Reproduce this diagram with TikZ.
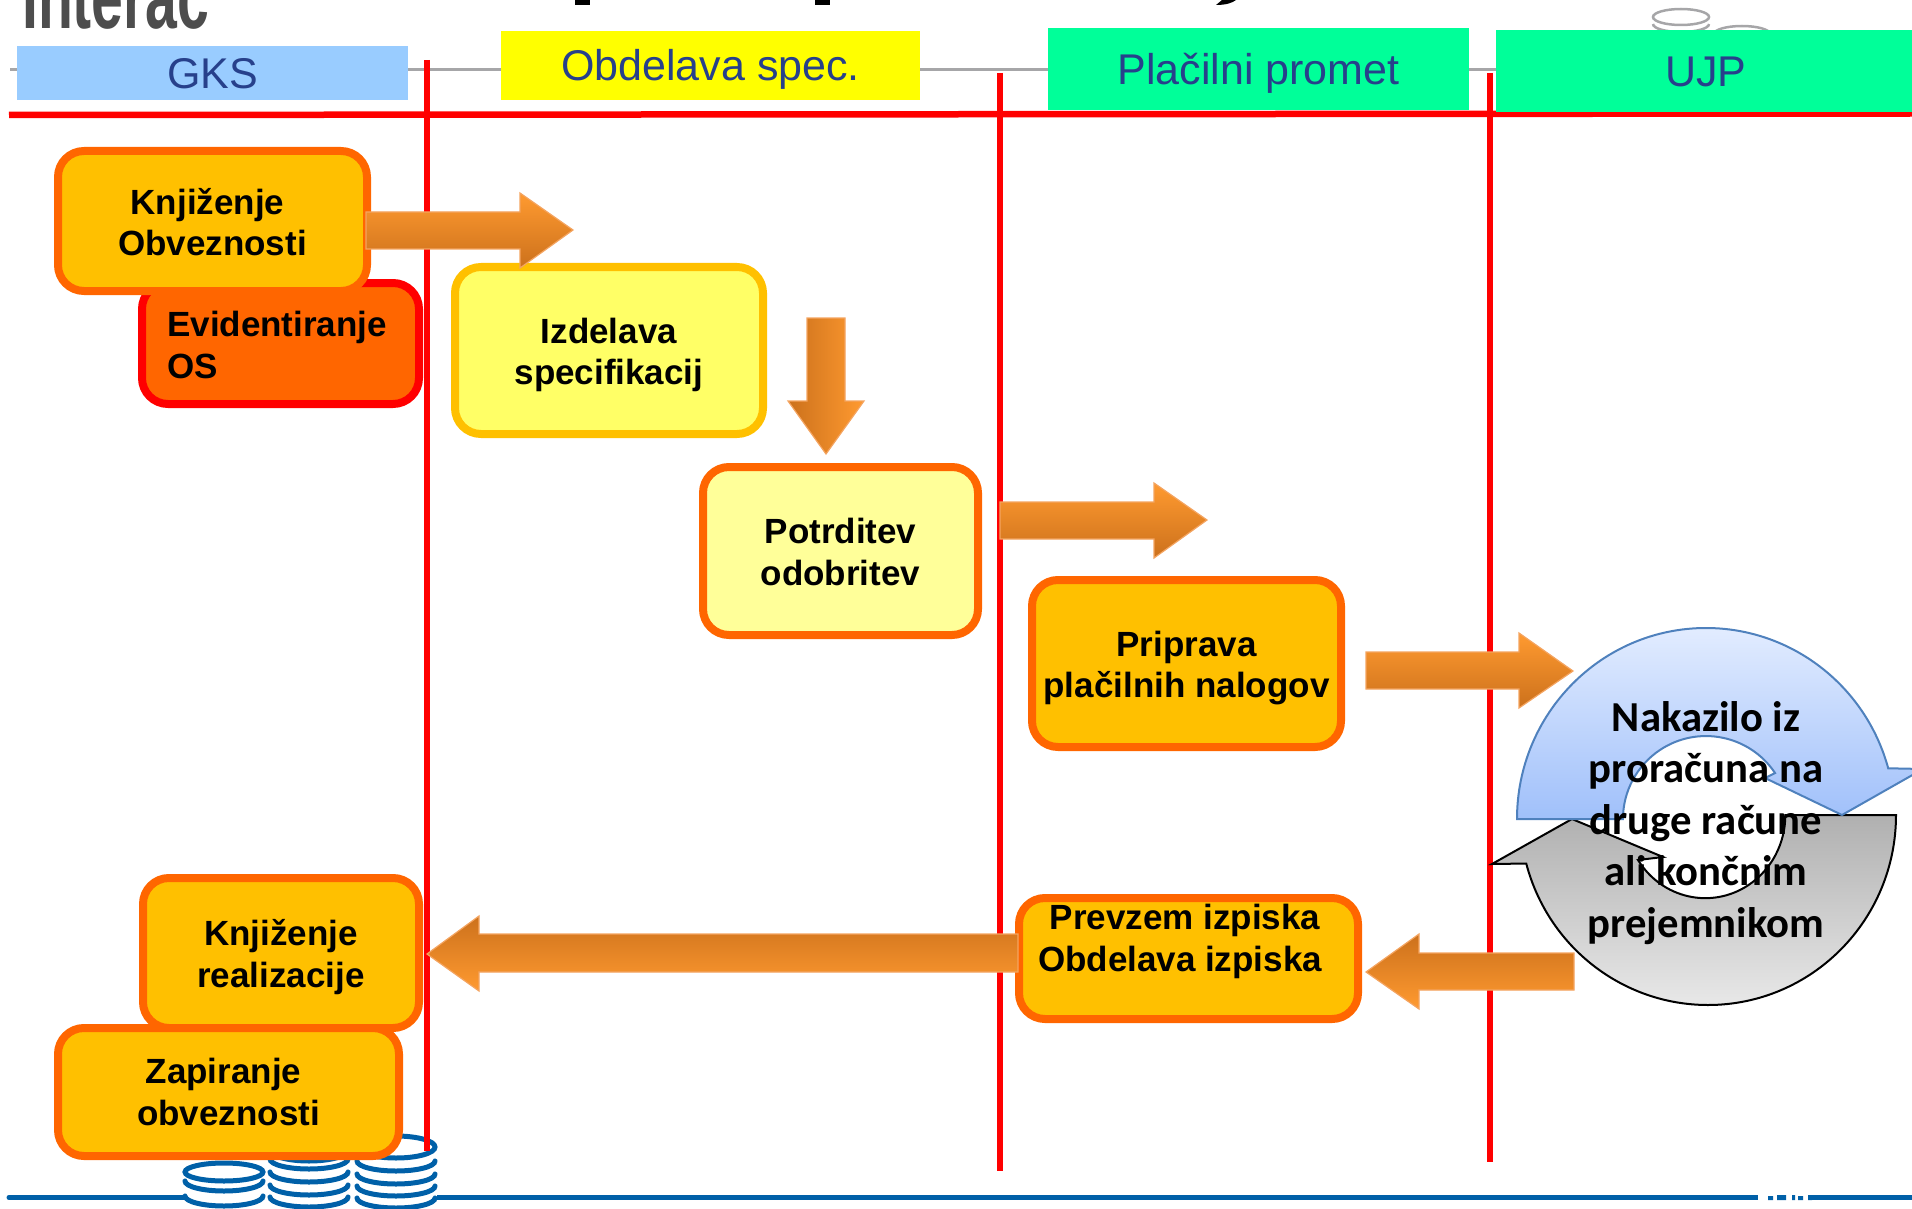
\documentclass[tikz,border=0pt]{standalone}
\usepackage{fontspec}
\setmainfont{Liberation Sans}
\newfontfamily\calib{Carlito}
\definecolor{headblue}{HTML}{27408B}
\definecolor{redln}{HTML}{FF0000}
\definecolor{coinblue}{HTML}{0060A8}
\definecolor{coingrey}{HTML}{A6A6A8}
\definecolor{amber}{HTML}{FFC000}
\definecolor{orangeb}{HTML}{FF6600}
\definecolor{arrowA}{HTML}{FF9A30}
\definecolor{arrowB}{HTML}{CC711C}
\definecolor{arrowE}{HTML}{F4A460}
\definecolor{headsky}{HTML}{99CCFF}
\definecolor{headyel}{HTML}{FFFF00}
\definecolor{headgrn}{HTML}{00FF99}
\definecolor{paleA}{HTML}{FFFF66}
\definecolor{paleB}{HTML}{FFFF99}
\definecolor{logogrey}{HTML}{4D4D4D}
\definecolor{cycleblue}{HTML}{4F81BD}
\tikzset{
  headbox/.style={inner sep=0pt,font=\fontsize{43}{50}\selectfont,text=headblue,text height=31pt,text depth=0pt},
  procbox/.style={draw=orangeb,fill=amber,line width=8pt,rounded corners=26pt,inner sep=0pt},
  boxtext/.style={font=\fontsize{35}{41.5}\selectfont\bfseries,align=center,inner sep=0pt,text=black},
  redline/.style={draw=redln,line width=6.5pt},
  arrowv/.style={draw=arrowE,line width=1.2pt,top color=arrowA,bottom color=arrowB},
  arrowd/.style={draw=arrowE,line width=1.2pt,left color=arrowB,right color=arrowA},
  arrowl/.style={draw=arrowE,line width=1.2pt,top color=arrowB,bottom color=arrowA},
  coinarc/.style={draw=coinblue,line width=5pt,line cap=round},
  greycoin/.style={draw=coingrey,line width=2.5pt},
}
\newcommand{\coinarc}[2]{\draw[coinarc] (#1-39,#2-12) arc[start angle=180,end angle=0,x radius=39,y radius=10];}
\begin{document}
\begin{tikzpicture}[x=1pt,y=-1pt]
\useasboundingbox (0,0) rectangle (1912,1209);
\begin{scope}
\clip (0,0) rectangle (1912,1209);
% fragments at the top of the slide
\node[anchor=base west,inner sep=0pt,font=\fontsize{90}{90}\selectfont\bfseries,text=logogrey,xscale=0.635] (logo) at (22,29) {Interac};
\fill[black] (575,0) rectangle (590,5);
\fill[black] (815,0) rectangle (830,5);
\fill[black] (1216,5) .. controls (1226,5) and (1232,3) .. (1236,0) -- (1222,0) -- cycle;
% grey coins, top right
\draw[greycoin] (1681,17) ellipse [x radius=28,y radius=8];
\draw[greycoin] (1653,24) arc[start angle=180,end angle=0,x radius=28,y radius=8];
\draw[greycoin] (1742,34) ellipse [x radius=28,y radius=8];
% grey rule
\coordinate (gl) at (10,70); \coordinate (gr) at (1500,70);
\draw[coingrey,line width=3pt] (gl) -- (gr);
% red horizontal rule
\coordinate (hl) at (9,115); \coordinate (hr) at (1912,113.5);
\draw[redline] (hl) -- (hr);
% header boxes
\node[headbox,fill=headsky,minimum width=391pt,minimum height=54pt] (gks) at (212.5,73) {GKS};
\node[headbox,fill=headyel,minimum width=419pt,minimum height=69pt] (spec) at (710.5,65.5) {Obdelava spec.};
\node[headbox,fill=headgrn,minimum width=421pt,minimum height=82pt] (pp) at (1258.5,69) {Plačilni promet};
\node[headbox,fill=headgrn,minimum width=420pt,minimum height=82pt] (ujp) at (1706,71) {UJP};
% bottom rule and coins
\coordinate (bl) at (9,1197.5); \coordinate (bm) at (184,1197.5);
\coordinate (bn) at (437,1197.5); \coordinate (br) at (1912,1197.5);
\draw[coinblue,line width=5pt,line cap=round] (bl) -- (bm);
\draw[coinblue,line width=5pt] (bn) -- (br);
% page-number remnant on the bottom rule
\fill[white] (1758,1193) rectangle (1812,1203);
\fill[coinblue] (1768,1196) rectangle (1773,1200) (1777,1195) rectangle (1786,1200)
   (1792,1195) rectangle (1795,1200) (1798,1196) rectangle (1803,1200) (1808,1195) rectangle (1812,1200);
\draw[coinarc] (224,1172) ellipse [x radius=39,y radius=9];
\coinarc{224}{1193}\coinarc{224}{1208}
\draw[coinarc] (309,1150) ellipse [x radius=39,y radius=11];
\coinarc{309}{1171}\coinarc{309}{1184}\coinarc{309}{1197}\coinarc{309}{1209}
\draw[coinarc] (396,1147) ellipse [x radius=39,y radius=11];
\coinarc{396}{1173}\coinarc{396}{1186}\coinarc{396}{1198}\coinarc{396}{1210}
% red verticals
\coordinate (v1a) at (427,60);  \coordinate (v1b) at (427,1151);
\coordinate (v2a) at (1000,73); \coordinate (v2b) at (1000,1171);
\coordinate (v3a) at (1490,73); \coordinate (v3b) at (1490,1162);
\draw[redline] (v1a) -- (v1b);
\draw[redline] (v2a) -- (v2b);
\draw[redline] (v3a) -- (v3b);
% process boxes
\node[procbox,draw=redln,fill=orangeb,minimum width=277pt,minimum height=121pt] (evid) at (280.5,343.5) {};
\node[boxtext,align=left,anchor=west] (evidt) at (167,345) {Evidentiranje\\OS};
\node[procbox,minimum width=309pt,minimum height=140pt] (knji) at (212.5,221) {};
\node[boxtext] (knjit) at (212.5,222) {Knjiženje\hspace*{10pt}\\Obveznosti};
\node[procbox,draw=amber,fill=paleA,minimum width=308pt,minimum height=167pt] (izd) at (609,350.5) {};
\node[boxtext] (izdt) at (609,355) {Izdelava\\specifikacij};
\node[procbox,fill=paleB,minimum width=275pt,minimum height=168pt] (pot) at (840.5,551) {};
\node[boxtext] (pott) at (840.5,552) {Potrditev\\odobritev};
\node[procbox,minimum width=309pt,minimum height=167pt] (pri) at (1186.5,663.5) {};
\node[boxtext] (prit) at (1186.5,668) {Priprava\\plačilnih nalogov};
\node[procbox,minimum width=339pt,minimum height=121pt] (prev) at (1188.5,958.5) {};
\node[boxtext] (prevt) at (1180,941.5) {Prevzem izpiska\hspace*{-10pt}\\Obdelava izpiska};
\node[procbox,minimum width=276pt,minimum height=150pt] (real) at (281,953) {};
\node[boxtext] (realt) at (281,957) {Knjiženje\\realizacije};
\node[procbox,minimum width=341pt,minimum height=128pt] (zap) at (228.5,1092) {};
\node[boxtext] (zapt) at (228.5,1092) {Zapiranje\hspace*{10pt}\\obveznosti};
% cycle arrows
\path[shade,top color={rgb,255:red,176;green,176;blue,176},bottom color={rgb,255:red,232;green,232;blue,232},draw=black,line width=2pt]
  (1896,815) arc[start angle=0,end angle=165.2,x radius=188,y radius=190]
  -- (1492,864) -- (1572,819) -- (1663,857) -- (1638,860)
  arc[start angle=147.3,end angle=0,x radius=80,y radius=83] -- cycle;
\path[shade,top color={rgb,255:red,226;green,236;blue,255},bottom color={rgb,255:red,160;green,192;blue,250},draw=cycleblue,line width=2pt]
  (1517,819) arc[start angle=180,end angle=344.6,x radius=189,y radius=191]
  -- (1923,769) -- (1842,815) -- (1765,778) -- (1775,773)
  arc[start angle=326.3,end angle=180,radius=83] -- cycle;
\node[inner sep=0pt,align=center,font=\calib\fontsize{42.7}{51.6}\selectfont\bfseries,text=black] (naka) at (1706,823)
  {Nakazilo iz\\proračuna na\\druge račune\\ali končnim\\prejemnikom};
% block arrows
\draw[arrowv] (366,212) -- (520,212) -- (520,193) -- (573,230) -- (520,268) -- (520,249) -- (366,249) -- cycle;
\draw[arrowd] (807,318) -- (845,318) -- (845,401) -- (864,401) -- (826,454) -- (788,401) -- (807,401) -- cycle;
\draw[arrowv] (1000,502) -- (1154,502) -- (1154,483) -- (1207,520) -- (1154,558) -- (1154,539) -- (1000,539) -- cycle;
\draw[arrowv] (1366,652) -- (1519,652) -- (1519,633) -- (1573,671) -- (1519,708) -- (1519,689) -- (1366,689) -- cycle;
\draw[arrowl] (1018,934) -- (479,934) -- (479,916) -- (427,954) -- (479,991) -- (479,972) -- (1018,972) -- cycle;
\draw[arrowl] (1574,953) -- (1419,953) -- (1419,934) -- (1366,972) -- (1419,1009) -- (1419,990) -- (1574,990) -- cycle;
\end{scope}
\end{tikzpicture}
\end{document}
